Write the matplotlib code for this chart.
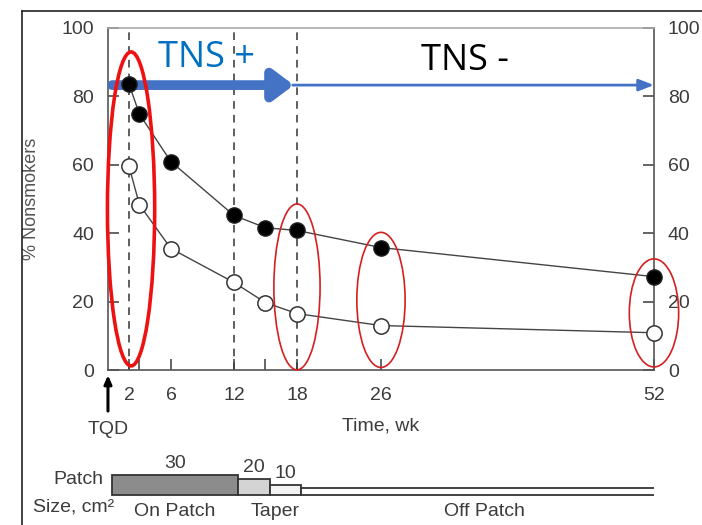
import matplotlib
matplotlib.use("Agg")
import matplotlib.pyplot as plt
from matplotlib.patches import Ellipse
from matplotlib.lines import Line2D

plt.rcParams['font.family'] = ['Liberation Sans Narrow', 'Liberation Sans', 'DejaVu Sans']

# data
weeks = [2, 3, 6, 12, 15, 18, 26, 52]
active = [83.6, 74.8, 60.9, 45.2, 41.6, 40.8, 35.8, 27.3]
placebo = [59.6, 48.3, 35.5, 25.6, 19.7, 16.5, 13.0, 10.9]

minor_ticks = [3, 15]
tick_weeks = [2, 6, 12, 18, 26, 52]
y_ticks = [0, 20, 40, 60, 80, 100]
dashed_weeks = [2, 12, 18]

# highlighted weeks: (centre week, centre %, width wk, height %)
rings = [(18, 24.3, 4.4, 48.5), (26, 20.5, 4.6, 39.5), (52, 16.7, 4.7, 31.6)]
big_ring = (2.2, 47.1, 4.5, 91.8)

# patch schedule
patch_start = [0, 12, 15, 18]
patch_end = [12, 15, 18, 52]
patch_size = ['30', '20', '10', '']
patch_draw_h = [20, 16, 10, 7]
patch_colors = ['#8c8c8c', '#d4d4d4', '#f2f2f2', '#ffffff']
phase_names = ['On Patch', 'Taper', 'Off Patch']
phase_mid = [6, 15.5, 35.5]

grey = '#3a3a3a'
txt = '#3c3c3c'

fig = plt.figure(figsize=(7.02, 5.25), dpi=100)
ax = fig.add_axes([0.1538, 0.2952, 0.7778, 0.6515])

for w in dashed_weeks:
    ax.plot([w, w], [0, 100], ls=(0, (5, 4)), color='#333333', lw=1.1, zorder=1)

ax.plot(weeks, active, '-', color='#444444', lw=1.0, zorder=2)
ax.plot(weeks, placebo, '-', color='#444444', lw=1.0, zorder=2)
ax.plot(weeks, active, 'o', ms=11, mfc='black', mec='#222222', zorder=4, clip_on=False)
ax.plot(weeks, placebo, 'o', ms=11, mfc='white', mec='#333333', mew=1.1, zorder=4, clip_on=False)

ax.set_xlim(0, 52)
ax.set_ylim(0, 100)
all_ticks = sorted(tick_weeks + minor_ticks)
ax.set_xticks(all_ticks)
ax.set_xticklabels([str(w) if w in tick_weeks else '' for w in all_ticks])
ax.set_yticks(y_ticks)
ax.tick_params(axis='both', direction='in', length=8, width=1.1, colors=grey,
               labelsize=14, labelcolor=txt)
ax.tick_params(axis='x', pad=12)
ax.tick_params(axis='y', pad=10, right=True, labelright=True)
for lab in ax.get_yticklabels(which='both'):
    pass
for s in ax.spines.values():
    s.set_color('#555555')
    s.set_linewidth(1.2)
ax.spines['top'].set_color('#aaaaaa')

ax.set_ylabel('% Nonsmokers', fontsize=13, color='#555555')
ax.yaxis.set_label_coords(-0.124, 0.5)
ax.set_xlabel('Time, wk', fontsize=14, color=txt)
ax.xaxis.set_label_coords(0.5, -0.14)

# red highlight ellipses
cx, cy, w, h = big_ring
ax.add_patch(Ellipse((cx, cy), w, h, fill=False, ec='#ee1111', lw=2.6, zorder=5, clip_on=False))
for cx, cy, w, h in rings:
    ax.add_patch(Ellipse((cx, cy), w, h, fill=False, ec='#d42020', lw=1.2, zorder=5, clip_on=False))

# TNS arrows
ax.annotate('', xy=(17.7, 83.3), xytext=(0.4, 83.3),
            arrowprops=dict(arrowstyle='-|>,head_length=1.2,head_width=0.9', color='#4472c4',
                            lw=7, shrinkA=0, shrinkB=0), zorder=3)
ax.annotate('', xy=(52, 83.3), xytext=(17.6, 83.3),
            arrowprops=dict(arrowstyle='-|>,head_length=0.9,head_width=0.35', color='#4472c4',
                            lw=2, shrinkA=0, shrinkB=0), zorder=3, annotation_clip=False)
ax.text(9.4, 91.2, 'TNS +', color='#0070c0', fontsize=26, ha='center', va='center',
        family=['Open Sans', 'DejaVu Sans'])
ax.text(34.0, 90.4, 'TNS -', color='black', fontsize=26, ha='center', va='center',
        family=['Open Sans', 'DejaVu Sans'])

# quit-date arrow
ax.annotate('', xy=(0, -1.5), xytext=(0, -12),
            arrowprops=dict(arrowstyle='-|>,head_length=0.5,head_width=0.22', color='black',
                            lw=2.2, shrinkA=0, shrinkB=0), annotation_clip=False)
ax.text(0, -17.3, 'TQD', fontsize=14, color=txt, ha='center', va='center')

# patch size strip (units roughly in pixels)
bx = fig.add_axes([0.1538, 0.0, 0.7778, 0.16])
bx.set_xlim(-0.4, 51.6)
bx.set_ylim(-30, 54)
bx.axis('off')
for x0, x1, hgt, c, lab in zip(patch_start, patch_end, patch_draw_h, patch_colors, patch_size):
    bx.bar(x0, hgt, width=x1 - x0, align='edge', color=c, edgecolor='#333333', lw=1.3)
    if lab:
        bx.text((x0 + x1) / 2, hgt + 12, lab, ha='center', va='center', fontsize=14, color=txt)
for name, xm in zip(phase_names, phase_mid):
    bx.text(xm, -16, name, ha='center', va='center', fontsize=14, color=txt)
bx.text(-3.2, 15, 'Patch', ha='center', va='center', fontsize=14, color=txt, clip_on=False)
bx.text(-3.7, -12, 'Size, cm²', ha='center', va='center', fontsize=14, color=txt, clip_on=False)

# screenshot frame (top and left edges)
fig.add_artist(Line2D([22 / 702, 1], [1 - 11 / 525, 1 - 11 / 525], color='#222222', lw=1.2))
fig.add_artist(Line2D([22 / 702, 22 / 702], [0, 1 - 11 / 525], color='#222222', lw=1.2))

fig.savefig('out.png', dpi=100)
